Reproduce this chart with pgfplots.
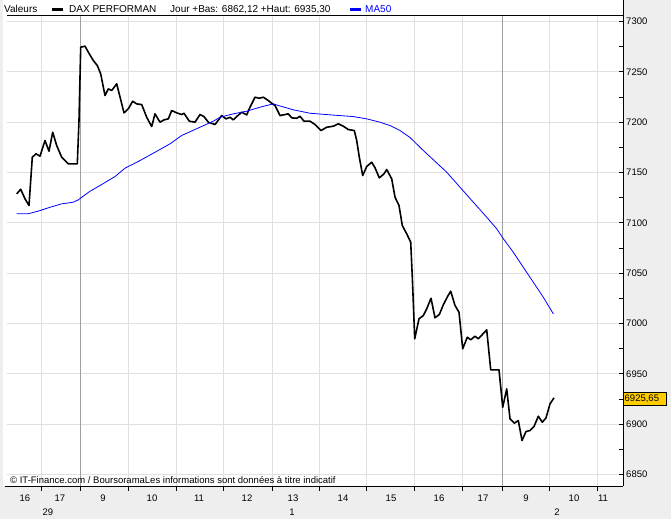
\documentclass[border=0pt]{standalone}
\usepackage{pgfplots}
\pgfplotsset{compat=1.18}
\usepackage{fontspec}
\setmainfont{Liberation Sans}
\definecolor{panel}{RGB}{238,238,238}
\definecolor{gridc}{RGB}{224,224,224}
\definecolor{daysep}{RGB}{160,160,160}
\definecolor{valbox}{RGB}{255,204,0}
\definecolor{maBlue}{RGB}{0,0,255}
\begin{document}
\begin{tikzpicture}
% pixel frame of the original screenshot: x right, y down
\begin{scope}[x=1bp, y=-1bp, shift={(-7bp,486bp)}]
  \useasboundingbox (0,0) rectangle (671,519);
  \fill[panel] (0,0) rectangle (671,519);
  \fill[white] (3.3,0) rectangle (623,486);
\end{scope}

\begin{axis}[
    at={(0,0)}, anchor=south west,
    scale only axis,
    width=616bp, height=471bp,
    xmin=7, xmax=623,
    ymin=6838.1, ymax=7306,
    axis line style={draw=none},
    xtick={41,80,128,176,223,272,319,366,414,462,502,549,597},
    xticklabels={},
    xtick pos=bottom,
    xtick align=outside,
    extra x ticks={25,60,103,152,199,247,293,343,391,439,483,526,574,603},
    extra x tick labels={16,17,9,10,11,12,13,14,15,16,17,9,10,11},
    extra x tick style={major tick length=0pt, grid=none,
        xticklabel style={anchor=base, yshift=-15bp}},
    ytick={6850,6900,...,7300},
    minor y tick num=1,
    ytick pos=right,
    yticklabel pos=right,
    ytick align=inside,
    yticklabel style={anchor=west, inner sep=0pt, xshift=3bp},
    major tick length=4bp, minor tick length=4bp,
    tick style={black, line width=0.8bp},
    tick label style={font=\fontsize{9.5bp}{11bp}\selectfont},
    /pgf/number format/.cd, set thousands separator={}, assume math mode=true,
    /pgfplots/.cd,
    xmajorgrids, ymajorgrids,
    grid style={gridc, line width=0.9bp},
]
\draw[daysep, line width=0.9bp] (axis cs:80,6838.1) -- (axis cs:80,7306);
\draw[daysep, line width=0.9bp] (axis cs:502,6838.1) -- (axis cs:502,7306);

% DAX PERFORMAN
\addplot[black, line width=1.6bp, line join=round] coordinates {
(16.7,7128.8) (20.7,7133.4) (25,7123.9) (29,7117.2) (32.3,7165.2) (36,7168.6)
(40,7166.2) (45,7181.8) (49,7171.2) (52.7,7190.0) (56.7,7176.8) (61.7,7165.2)
(68.3,7158.6) (77.3,7158.6) (79,7201.7) (80.7,7274.5) (85,7275.5) (89.3,7267.9)
(93.3,7261.3) (97.3,7256.3) (100.7,7248.0) (105,7226.5) (108.3,7233.1) (111.7,7231.5)
(116.7,7238.1) (124,7209.3) (128.3,7213.3) (132.7,7220.8) (136.7,7218.2) (141.7,7217.5)
(146.7,7204.9) (151.7,7195.7) (155,7208.3) (160,7200.0) (164,7202.3) (168.3,7203.3)
(171.7,7211.6) (176.7,7209.3) (181.7,7207.6) (184,7208.9) (189.3,7201.0) (195,7200.0)
(200,7207.6) (204,7205.6) (208.3,7200.0) (215,7197.7) (221.7,7206.6) (226,7203.3)
(230,7204.9) (233.3,7202.3) (236.7,7205.6) (241.7,7209.9) (246.7,7207.3) (250,7214.9)
(255,7224.8) (259.3,7223.8) (263.3,7224.8) (268.3,7221.5) (271.7,7218.8) (275,7216.6)
(280,7206.6) (285,7207.6) (288.3,7208.3) (291.7,7204.3) (296.7,7203.9) (300,7205.9)
(304,7201.0) (310,7201.0) (315,7197.7) (321,7191.7) (326.7,7195.0) (333.3,7196.0)
(338.3,7198.4) (343.3,7196.0) (348.3,7192.7) (354.3,7191.7) (356.7,7181.8) (359.3,7165.2)
(362.7,7147.0) (366.7,7156.0) (371.7,7160.2) (375,7154.7) (379.3,7144.7) (384,7148.7)
(386.7,7153.0) (391.7,7143.7) (395,7125.5) (399,7117.2) (402.3,7097.3) (406.7,7089.1)
(410.7,7080.8) (412.3,7046.0) (413.3,7021.2) (414.7,6984.8) (419,7004.7) (423.3,7007.9)
(426.7,7014.6) (431,7025.1) (435,7005.7) (439.3,7008.9) (443.3,7018.6) (447.7,7027.1)
(450.7,7032.1) (455,7017.9) (459,7011.2) (462.7,6974.9) (467.3,6986.4) (470.7,6983.8)
(475,6987.4) (478.3,6984.8) (486.7,6993.7) (490.7,6954.0) (499,6954.0) (502.7,6916.8)
(506.7,6935.1) (510,6905.3) (514.3,6901.0) (518.3,6903.6) (522,6883.8) (526,6892.7)
(530,6893.7) (534,6897.7) (538.3,6907.9) (542.3,6901.9) (546,6906.3) (550,6920.2)
(554,6926.2)
};
% MA50
\addplot[maBlue, line width=0.8bp] coordinates {
(16.7,7109.0) (28.3,7109.0) (40,7112.2) (50,7115.5) (61.7,7118.9) (73.3,7120.5)
(78.3,7122.9) (90,7131.4) (101.7,7138.1) (115,7146.0) (125,7154.3) (140,7161.9)
(153.3,7169.2) (170,7178.5) (181.7,7186.8) (200,7195.0) (213.3,7201.0) (220,7204.9)
(233.3,7208.3) (246.7,7210.9) (260,7214.9) (273.3,7218.2) (278.3,7216.6) (293.3,7212.3)
(310,7208.9) (330,7207.3) (353.3,7205.6) (366.7,7203.3) (380,7200.0) (390,7196.7)
(400,7191.7) (410,7184.8) (423.3,7171.9) (446.7,7150.3) (460,7135.4) (473.3,7120.5)
(486.7,7105.6) (496.7,7094.1) (502.7,7085.1) (513.3,7070.8) (523.3,7055.9) (533.3,7041.0)
(543.3,7026.1) (553.3,7009.6)
};
\end{axis}

\begin{scope}[x=1bp, y=-1bp, shift={(-7bp,486bp)}, font=\fontsize{10bp}{12bp}\selectfont]
  % frame
  \draw[black, line width=1bp] (7,15) -- (623,15);
  \draw[black, line width=1bp] (5,486) -- (623,486);
  \draw[black, line width=1bp] (623,0) -- (623,486);
  % header
  \node[anchor=base west, inner sep=0pt] at (4,12.5) {Valeurs};
  \fill[black] (52,8) rectangle (63,11);
  \node[anchor=base west, inner sep=0pt] at (69,12.5) {DAX PERFORMAN};
  \node[anchor=base west, inner sep=0pt] at (170,12.5) {Jour +Bas: 6862,12 +Haut: 6935,30};
  \fill[maBlue] (350,8) rectangle (361,11);
  \node[anchor=base west, inner sep=0pt, text=maBlue] at (365,12.5) {MA50};
  % source
  \node[anchor=base west, inner sep=0pt, font=\fontsize{9.5bp}{11bp}\selectfont] at (10,483)
    {© IT-Finance.com / BoursoramaLes informations sont données à titre indicatif};
  % day labels
  \node[anchor=base, inner sep=0pt, font=\fontsize{9.5bp}{11bp}\selectfont] at (48,515.5) {29};
  \node[anchor=base, inner sep=0pt, font=\fontsize{9.5bp}{11bp}\selectfont] at (292,515.5) {1};
  \node[anchor=base, inner sep=0pt, font=\fontsize{9.5bp}{11bp}\selectfont] at (557,515.5) {2};
  % last value
  \draw[black, line width=0.6bp, fill=valbox] (623,391.5) rectangle (666,405);
  \node[anchor=west, inner sep=0pt, font=\fontsize{9.5bp}{11bp}\selectfont] at (624.5,398.5) {6925,65};
\end{scope}
\end{tikzpicture}
\end{document}
